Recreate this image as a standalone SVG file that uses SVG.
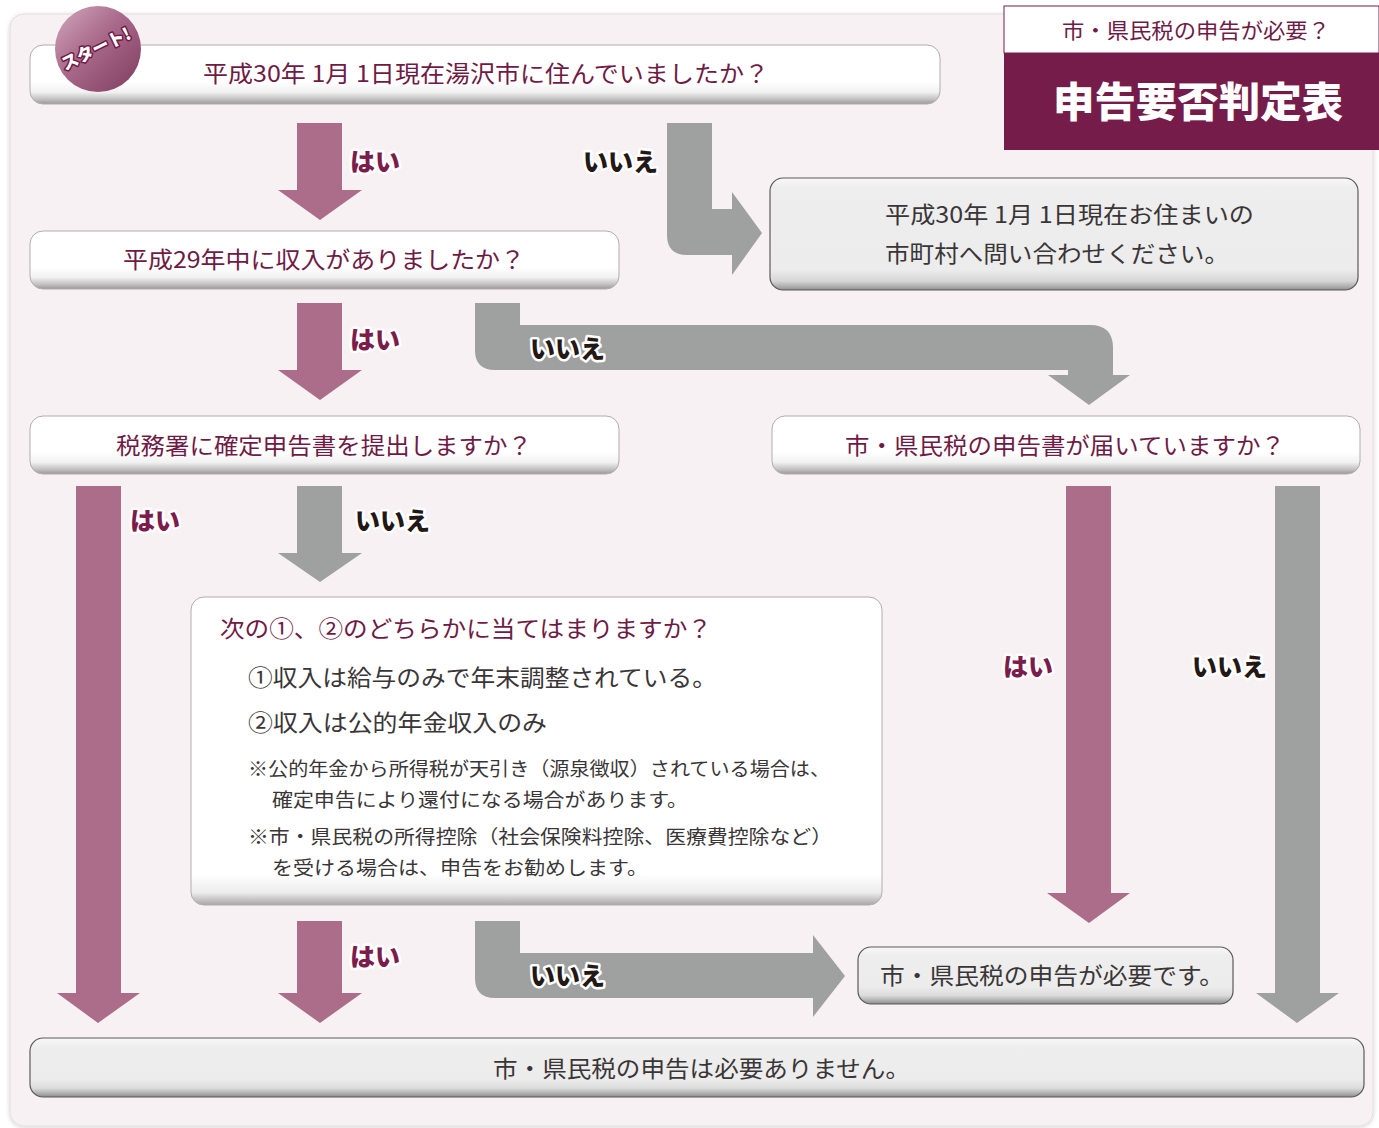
<svg xmlns="http://www.w3.org/2000/svg" width="1379" height="1128" viewBox="0 0 1379 1128">
<defs>
<linearGradient id="gW" x1="0" y1="0" x2="0" y2="1">
<stop offset="0" stop-color="#ffffff"/><stop offset="0.62" stop-color="#ffffff"/><stop offset="0.8" stop-color="#f1f1f1"/><stop offset="0.92" stop-color="#c2c0c0"/><stop offset="1" stop-color="#9a9797"/>
</linearGradient>
<linearGradient id="gG" x1="0" y1="0" x2="0" y2="1">
<stop offset="0" stop-color="#f8f8f8"/><stop offset="0.15" stop-color="#eeeeee"/><stop offset="0.7" stop-color="#ececec"/><stop offset="0.85" stop-color="#dcdcdc"/><stop offset="0.95" stop-color="#a9a9a9"/><stop offset="1" stop-color="#8a8a8a"/>
</linearGradient>
<linearGradient id="gGtall" x1="0" y1="0" x2="0" y2="1">
<stop offset="0" stop-color="#f8f8f8"/><stop offset="0.08" stop-color="#eeeeee"/><stop offset="0.82" stop-color="#ececec"/><stop offset="0.92" stop-color="#d6d6d6"/><stop offset="0.98" stop-color="#a4a4a4"/><stop offset="1" stop-color="#8a8a8a"/>
</linearGradient>
<linearGradient id="gWtall" x1="0" y1="0" x2="0" y2="1">
<stop offset="0" stop-color="#ffffff"/><stop offset="0.9" stop-color="#ffffff"/><stop offset="0.96" stop-color="#ececec"/><stop offset="1" stop-color="#a8a5a5"/>
</linearGradient>
<linearGradient id="gStart" x1="0" y1="0" x2="1" y2="1">
<stop offset="0" stop-color="#d3a9bd"/><stop offset="0.45" stop-color="#a9698a"/><stop offset="1" stop-color="#7e3c5e"/>
</linearGradient>
<filter id="sh" x="-5%" y="-5%" width="110%" height="110%">
<feDropShadow dx="0" dy="1" stdDeviation="2" flood-color="#000" flood-opacity="0.18"/>
</filter>
</defs>
<style>
.q{fill:url(#gW);stroke:#b3acae;stroke-width:1}
.a{fill:url(#gG);stroke:#5a5a5a;stroke-width:1.2}
.t{font-family:"Noto Sans CJK JP","Noto Sans",sans-serif;font-size:23px}
.tq{fill:#6f1b45}
.ta{fill:#3a3637}
.ts{font-size:19px}
.pk{fill:#ab6d8a}
.gy{fill:#9fa0a0}
.lb{font-family:"Noto Sans CJK JP","Noto Sans",sans-serif;font-size:25px;font-weight:900;paint-order:stroke;stroke:#ffffff;stroke-width:5;stroke-linejoin:round}
.yes{fill:#7b1c4c}
.no{fill:#231815}
</style>

<rect x="10" y="14" width="1363" height="1112" rx="14" fill="#f7f1f3" stroke="#e3dde0" stroke-width="1" filter="url(#sh)"/>

<g id="title">
<rect x="1004" y="6" width="375" height="47" fill="#ffffff" stroke="#761c4a" stroke-width="1"/>
<rect x="1004" y="53" width="375" height="97" fill="#761c4a"/>
<text x="1062" y="38" class="t" style="font-size:21px" fill="#6f1b45" textLength="268" lengthAdjust="spacingAndGlyphs">市・県民税の申告が必要？</text>
<text x="1053" y="117" font-family="'Noto Sans CJK JP',sans-serif" font-size="41" font-weight="900" fill="#ffffff" textLength="290" lengthAdjust="spacingAndGlyphs">申告要否判定表</text>
</g>

<g id="connectors">
<path class="pk" d="M297,123 H342 V190 H362 L320,220 L278,190 H297 Z"/>
<path class="gy" d="M667,123 H712 V209 H732 V192 L762,233 L732,275 V255 H687 Q667,255 667,235 Z"/>
<path class="pk" d="M297,303 H342 V370 H362 L320,400 L278,370 H297 Z"/>
<path class="gy" d="M475,303 H520 V325 H1090 Q1113,325 1113,348 V375 H1130 L1089,405 L1048,375 H1068 V370 H495 Q475,370 475,350 Z"/>
<path class="pk" d="M76,486 H121 V993 H140 L98,1023 L57,993 H76 Z"/>
<path class="gy" d="M297,486 H342 V553 H362 L320,582 L278,553 H297 Z"/>
<path class="pk" d="M1066,486 H1111 V893 H1130 L1089,923 L1047,893 H1066 Z"/>
<path class="gy" d="M1275,486 H1320 V993 H1339 L1297,1023 L1256,993 H1275 Z"/>
<path class="pk" d="M297,921 H342 V993 H362 L320,1023 L278,993 H297 Z"/>
<path class="gy" d="M475,921 H520 V953 H813 V935 L845,976 L813,1017 V998 H495 Q475,998 475,978 Z"/>
<text class="lb yes" x="350" y="171">はい</text>
<text class="lb no" x="583" y="171">いいえ</text>
<text class="lb yes" x="350" y="349">はい</text>
<text class="lb no" x="530" y="358">いいえ</text>
<text class="lb yes" x="130" y="530">はい</text>
<text class="lb no" x="355" y="530">いいえ</text>
<text class="lb yes" x="1003" y="676">はい</text>
<text class="lb no" x="1192" y="676">いいえ</text>
<text class="lb yes" x="350" y="966">はい</text>
<text class="lb no" x="530" y="985">いいえ</text>
</g>

<g id="q1">
<rect class="q" x="30" y="45" width="910" height="59" rx="13"/>
<text class="t tq" x="203" y="82" textLength="566" lengthAdjust="spacingAndGlyphs">平成30年 1月 1日現在湯沢市に住んでいましたか？</text>
</g>

<g id="start">
<circle cx="98" cy="49" r="43" fill="url(#gStart)"/>
<text x="96" y="55" text-anchor="middle" transform="rotate(-26 96 49)" font-family="'Noto Sans CJK JP',sans-serif" font-size="17" font-weight="900" fill="#ffffff" stroke="#6f1b45" stroke-width="3" paint-order="stroke" stroke-linejoin="round">スタート!</text>
</g>

<g id="r1">
<rect class="a" x="770" y="178" width="588" height="112" rx="13" style="fill:url(#gGtall)"/>
<text class="t ta" x="885" y="223" textLength="369" lengthAdjust="spacingAndGlyphs">平成30年 1月 1日現在お住まいの</text>
<text class="t ta" x="885" y="262" textLength="344" lengthAdjust="spacingAndGlyphs">市町村へ問い合わせください。</text>
</g>

<g id="q2">
<rect class="q" x="30" y="231" width="589" height="58" rx="13"/>
<text class="t tq" x="123" y="268" textLength="402" lengthAdjust="spacingAndGlyphs">平成29年中に収入がありましたか？</text>
</g>

<g id="q3">
<rect class="q" x="30" y="416" width="589" height="58" rx="13"/>
<text class="t tq" x="116" y="454" textLength="416" lengthAdjust="spacingAndGlyphs">税務署に確定申告書を提出しますか？</text>
</g>

<g id="q4">
<rect class="q" x="772" y="416" width="588" height="58" rx="13"/>
<text class="t tq" x="845" y="454" textLength="440" lengthAdjust="spacingAndGlyphs">市・県民税の申告書が届いていますか？</text>
</g>

<g id="q5">
<rect class="q" x="191" y="597" width="691" height="308" rx="13" style="fill:url(#gWtall)"/>
<text class="t tq" x="220" y="637" textLength="492" lengthAdjust="spacingAndGlyphs">次の①、②のどちらかに当てはまりますか？</text>
<text class="t ta" x="248" y="686" textLength="469" lengthAdjust="spacingAndGlyphs">①収入は給与のみで年末調整されている。</text>
<text class="t ta" x="248" y="731" textLength="299" lengthAdjust="spacingAndGlyphs">②収入は公的年金収入のみ</text>
<text class="t ts ta" x="248" y="776" textLength="582" lengthAdjust="spacingAndGlyphs">※公的年金から所得税が天引き（源泉徴収）されている場合は、</text>
<text class="t ts ta" x="272" y="807" textLength="416" lengthAdjust="spacingAndGlyphs">確定申告により還付になる場合があります。</text>
<text class="t ts ta" x="248" y="844" textLength="584" lengthAdjust="spacingAndGlyphs">※市・県民税の所得控除（社会保険料控除、医療費控除など）</text>
<text class="t ts ta" x="272" y="875" textLength="376" lengthAdjust="spacingAndGlyphs">を受ける場合は、申告をお勧めします。</text>
</g>

<g id="r2">
<rect class="a" x="858" y="947" width="375" height="57" rx="13"/>
<text class="t ta" x="880" y="984" textLength="344" lengthAdjust="spacingAndGlyphs">市・県民税の申告が必要です。</text>
</g>

<g id="r3">
<rect class="a" x="30" y="1038" width="1334" height="59" rx="13"/>
<text class="t ta" x="493" y="1077" textLength="417" lengthAdjust="spacingAndGlyphs">市・県民税の申告は必要ありません。</text>
</g>
</svg>
